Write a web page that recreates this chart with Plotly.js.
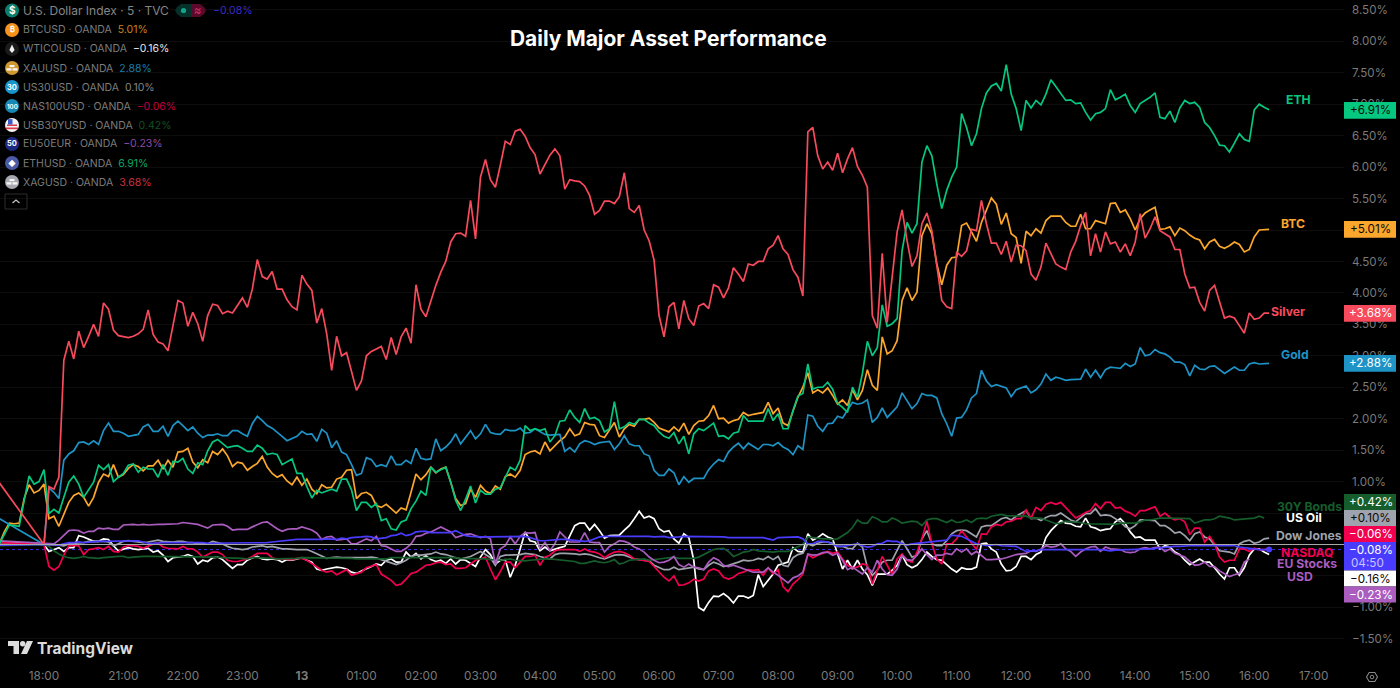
<!DOCTYPE html>
<html>
<head>
<meta charset="utf-8">
<script src="https://cdn.plot.ly/plotly-3.0.1.min.js"></script>
<style>html,body{margin:0;padding:0;background:#000;overflow:hidden}#chart{width:1400px;height:688px}</style>
</head>
<body>
<div id="chart"></div>
<script>
const _ = null;
// Percent change per 5-minute bar. First row = the bars before the 18:00 reopen, then 10 bars per row.
const silver = [.98,_,_,_,_,_,_,_,_,
0,.92,.88,1.07,2.93,3.23,2.95,3.39,3.13,3.31,
3.50,3.31,3.84,3.74,3.41,3.32,3.30,3.29,3.31,3.35,
3.42,3.73,3.34,3.22,3.19,3.08,3.48,3.88,3.84,3.47,
3.69,3.51,3.23,3.64,3.82,3.80,3.67,3.71,3.68,3.80,
3.92,3.77,4.06,4.53,4.26,4.22,4.34,4.06,4.06,3.89,
3.78,3.73,4.28,4.14,4.04,3.52,3.75,3.35,2.77,3.31,
3.00,3.05,2.76,2.45,2.60,3.00,3.07,3.11,3.15,2.94,
3.29,3.02,3.30,3.44,3.20,4.13,3.74,3.62,3.88,4.12,
4.33,4.50,4.81,4.94,4.95,4.90,5.47,4.86,5.84,6.12,
5.80,5.68,6.03,6.41,6.36,6.57,6.60,6.49,6.31,6.20,
5.89,6.03,6.19,6.29,6.18,5.65,5.80,5.78,5.77,5.70,
5.55,5.25,5.31,5.46,5.46,5.42,5.53,5.91,5.34,5.28,
5.39,5.00,4.83,4.52,3.64,3.30,3.78,3.85,3.43,3.88,
3.59,3.48,3.79,3.83,3.75,4.13,4.09,3.92,4.08,4.40,
4.30,4.18,4.46,4.44,4.50,4.50,4.70,4.76,4.91,4.70,
4.61,4.37,4.25,3.95,6.56,6.63,6.18,5.97,6.08,5.95,
6.22,5.91,6.13,6.31,6.01,5.87,5.68,3.64,3.44,4.63,
3.53,4.25,4.97,5.32,4.83,4.42,4.59,5.10,5.27,4.99,
4.41,3.88,3.78,3.75,4.65,4.58,4.67,5.01,4.99,5.47,
5.10,4.79,4.79,4.61,4.82,4.49,4.76,4.75,4.67,4.30,
4.20,4.41,4.79,4.63,4.46,4.41,4.37,4.65,4.82,5.07,
5.28,4.59,4.94,4.65,4.97,4.78,4.81,4.65,4.78,4.59,
4.81,5.26,4.87,5.02,5.21,4.99,4.94,4.89,4.69,4.69,
4.30,4.08,4.09,3.85,3.71,4.04,4.12,3.85,3.60,3.63,
3.60,3.48,3.36,3.68,3.58,3.60,3.68,3.68];
const eth = [.01,.17,.31,.30,.29,.70,1.09,.96,1.00,
1.19,.49,.56,.50,.75,.99,1.09,.96,.75,.86,
.99,1.26,1.19,1.27,1.00,1.07,1.13,1.26,1.28,1.15,
1.23,1.20,1.20,1.07,1.27,1.10,1.32,1.31,1.37,1.20,
1.13,1.30,1.27,1.49,1.63,1.67,1.61,1.54,1.56,1.57,
1.53,1.48,1.48,1.58,1.53,1.43,1.45,1.43,1.27,1.31,
1.36,1.13,1.13,.92,.74,.86,.82,.85,.88,.85,
1.04,1.04,.87,.54,.67,.67,.59,.65,.38,.41,
.25,.23,.36,.39,.57,.69,.85,.78,1.23,1.15,
1.19,1.23,.99,.70,.54,.72,.93,.66,.86,.80,
.80,.88,.90,1.07,1.23,1.18,1.34,1.89,1.81,1.84,
1.81,1.84,1.63,1.73,1.96,1.97,2.14,2.02,1.94,2.16,
2.00,2.02,1.97,1.79,1.84,2.27,1.84,1.87,1.94,1.91,
1.99,1.99,1.93,1.89,1.79,1.72,1.69,1.78,1.60,1.72,
1.44,1.76,1.84,1.81,1.87,1.93,1.72,1.73,1.68,1.77,
1.79,2.05,1.96,1.96,1.96,1.96,2.16,1.97,2.08,1.84,
1.84,2.13,2.36,2.40,2.87,2.47,2.50,2.50,2.58,2.47,
2.24,2.18,2.10,2.50,2.34,2.72,3.23,3.00,3.13,3.81,
3.47,3.51,3.59,4.67,5.12,4.95,5.10,6.08,6.34,6.18,
5.73,5.34,5.63,5.84,6.00,6.85,6.63,6.34,6.53,6.93,
7.18,7.29,7.33,7.21,7.63,7.16,6.93,6.58,7.06,6.94,
7.06,6.99,7.16,7.39,7.28,7.16,7.06,7.07,7.01,7.02,
6.87,6.75,6.85,6.87,6.93,7.23,7.07,7.11,7.16,6.98,
6.87,7.01,7.06,7.11,7.18,6.79,6.77,6.89,6.71,6.94,
7.06,7.01,7.03,6.95,6.71,6.63,6.50,6.35,6.34,6.24,
6.38,6.53,6.44,6.41,6.91,7.00,6.95,6.91];
const btc = [.01,.20,.34,.33,.34,.73,.95,.82,.86,
.96,.41,.45,.29,.49,.67,.78,.82,.75,.61,
.75,.99,1.12,1.08,1.27,1.07,1.11,1.21,1.27,1.24,
1.17,1.25,1.25,1.34,1.20,1.34,1.23,1.47,1.48,1.53,
1.31,1.22,1.35,1.30,1.48,1.43,1.52,1.41,1.24,1.31,
1.29,1.18,1.24,1.29,1.40,1.23,1.13,1.07,1.11,1.01,
.95,1.07,.94,1.04,.88,.81,.95,.90,.91,1.04,
1.07,1.18,1.19,.73,.81,.83,.78,.62,.59,.64,
.57,.50,.58,.55,.83,1.12,1.03,1.11,1.23,1.14,
1.20,1.23,.99,.73,.62,.65,.88,.75,.94,.85,
.81,.93,.88,1.08,1.12,1.07,1.18,1.43,1.47,1.49,
1.44,1.63,1.49,1.57,1.65,1.71,1.84,1.73,1.76,1.94,
1.91,1.90,1.73,1.70,1.81,1.94,1.71,1.84,1.91,1.88,
1.99,1.99,2.01,1.94,1.85,1.82,1.79,1.87,1.80,1.93,
1.75,1.89,1.96,1.97,2.05,2.21,2.00,2.01,1.93,1.97,
1.99,2.10,2.05,2.07,2.09,2.10,2.26,2.08,2.17,1.93,
1.89,2.13,2.34,2.50,2.73,2.41,2.46,2.41,2.49,2.37,
2.23,2.30,2.21,2.46,2.30,2.45,2.78,2.53,2.45,3.30,
3.03,3.08,3.24,3.88,4.08,3.88,4.01,4.91,5.10,4.94,
4.46,4.13,4.44,4.56,4.57,5.07,5.11,4.97,4.82,5.12,
5.31,5.51,5.41,5.09,5.27,4.94,4.88,4.47,4.98,4.91,
5.02,4.95,5.15,5.22,5.22,5.22,5.12,5.06,5.06,5.25,
5.02,5.02,5.15,5.12,5.10,5.42,5.43,5.28,5.32,5.18,
5.00,5.18,5.27,5.32,5.36,5.01,5.02,5.05,4.91,5.03,
4.99,4.92,4.87,4.84,4.70,4.81,4.85,4.74,4.71,4.75,
4.81,4.77,4.65,4.69,4.89,5.00,5.01,5.01];
const gold = [.41,_,_,_,_,_,_,_,_,
0,.90,.83,.73,1.34,1.44,1.49,1.62,1.63,1.59,
1.65,1.59,1.81,1.93,1.80,1.80,1.77,1.72,1.74,1.75,
1.87,1.91,1.80,1.80,1.88,1.72,1.89,1.96,1.89,1.81,
1.87,1.77,1.70,1.74,1.74,1.76,1.73,1.73,1.81,1.81,
1.76,1.72,1.92,2.04,1.97,1.89,1.85,1.79,1.72,1.65,
1.68,1.72,1.80,1.75,1.76,1.64,1.83,1.77,1.54,1.65,
1.47,1.43,1.27,1.10,1.13,1.38,1.35,1.24,1.27,1.24,
1.41,1.27,1.27,1.34,1.29,1.53,1.37,1.35,1.36,1.68,
1.49,1.55,1.63,1.76,1.60,1.71,1.81,1.68,1.76,1.91,
1.78,1.76,1.75,1.83,1.81,1.81,1.85,1.77,1.78,1.84,
1.79,1.75,1.74,1.75,1.75,1.48,1.54,1.47,1.60,1.65,
1.63,1.59,1.62,1.63,1.64,1.51,1.60,1.73,1.60,1.57,
1.57,1.44,1.41,1.18,1.10,1.10,1.20,1.14,.95,1.08,
.99,1.05,1.05,1.05,1.19,1.28,1.35,1.32,1.47,1.55,
1.61,1.52,1.61,1.56,1.51,1.59,1.59,1.57,1.62,1.55,
1.51,1.43,1.57,1.51,2.06,2.04,1.88,1.80,1.92,1.93,
2.04,2.01,2.14,2.26,2.23,2.25,2.30,1.94,2.02,2.17,
2.02,2.10,2.19,2.41,2.28,2.16,2.24,2.40,2.37,2.37,
2.33,2.08,1.92,1.72,2.01,2.02,2.14,2.33,2.40,2.77,
2.60,2.51,2.54,2.52,2.49,2.35,2.46,2.49,2.52,2.41,
2.46,2.55,2.71,2.61,2.66,2.64,2.61,2.62,2.62,2.63,
2.79,2.66,2.77,2.65,2.78,2.82,2.81,2.80,2.88,2.83,
2.87,3.13,3.00,3.02,3.10,3.05,3.03,2.98,2.90,2.90,
2.86,2.68,2.85,2.79,2.78,2.83,2.84,2.78,2.72,2.77,
2.82,2.77,2.77,2.87,2.89,2.87,2.88,2.88];
const euStocks = [.06,_,_,_,_,_,_,_,_,
.02,.01,.01,.07,.15,.22,.23,.22,.18,.21,
.21,.26,.25,.26,.24,.24,.31,.32,.32,.31,
.32,.31,.32,.32,.32,.32,.33,.33,.35,.34,
.33,.32,.29,.26,.31,.32,.32,.29,.23,.24,
.24,.24,.28,.31,.35,.36,.30,.25,.21,.24,
.25,.25,.28,.26,.23,.18,.08,.12,.13,.07,
.08,.09,.01,.01,.05,.09,.06,.13,-.02,-.03,
-.07,-.11,-.11,-.06,.01,.13,.14,.18,.20,.24,
.28,.24,.20,.11,.14,.16,.17,.14,.11,.13,
.09,-.31,-.07,-.02,.12,.01,.13,.19,.18,.19,
-.07,.03,-.10,.01,.20,.12,.04,.04,.04,.19,
.04,.03,.03,-.12,-.03,.01,.06,.05,.02,-.04,
-.07,-.12,-.20,-.25,-.29,-.28,-.25,-.19,-.32,-.36,
-.31,-.36,-.37,-.40,-.28,-.21,-.25,-.33,-.35,-.33,
-.36,-.39,-.42,-.44,-.44,-.44,-.37,-.44,-.49,-.55,
-.61,-.53,-.50,-.44,-.15,-.17,-.16,-.13,-.12,-.17,
-.14,-.25,-.40,-.36,-.41,-.47,-.37,-.44,-.25,-.39,
-.48,-.49,-.39,-.17,-.24,-.25,-.17,-.07,-.16,-.24,
-.17,-.17,-.14,-.16,-.07,-.12,-.07,-.16,-.11,-.17,
-.24,-.24,-.24,-.23,-.21,-.18,-.16,-.15,-.14,-.10,
-.11,-.07,-.02,-.04,-.03,.01,-.07,-.11,-.19,-.12,
-.07,-.04,-.03,-.11,-.04,-.07,-.07,-.08,-.12,-.13,
-.12,-.07,-.05,-.07,-.05,-.04,-.11,-.07,-.14,-.17,
-.20,-.27,-.33,-.32,-.28,-.35,-.35,-.42,-.47,-.51,
-.48,-.46,-.28,-.23,_,_,_,_];
const usd = [-.01,_,_,_,_,_,_,_,_,
0,.01,0,-.01,.01,.03,.03,.04,.03,.04,
.04,.05,.05,.05,.05,.05,.06,.06,.06,.06,
.04,.02,.02,.03,.03,.03,.03,.03,.04,.03,
.03,.03,.03,.02,.02,.02,.02,.02,.03,.03,
.03,.03,.03,.03,.03,.03,.04,.05,.06,.07,
.08,.08,.08,.08,.07,.07,.08,.09,.08,.08,
.10,.09,.11,.11,.12,.13,.12,.09,.10,.11,
.14,.15,.18,.14,.16,.20,.21,.21,.19,.19,
.19,.19,.19,.22,.18,.14,.13,.12,.12,.12,
.12,.12,.12,.12,.12,.13,.12,.13,.11,.09,
.06,.06,.07,.08,.08,.08,.07,.07,.06,.05,
.06,.09,.12,.13,.13,.13,.14,.14,.14,.14,
.14,.14,.13,.12,.12,.13,.11,.11,.12,.13,
.13,.13,.13,.13,.13,.13,.13,.12,.11,.11,
.10,.11,.11,.11,.11,.11,.09,.07,.11,.11,
.11,.11,.12,.09,.01,.01,.05,.05,.04,0,
-.03,-.03,-.02,0,.01,-.02,-.04,-.03,.01,.02,
.06,.05,.05,.01,-.01,.01,.02,.03,.03,.04,
.06,.07,.07,.15,.14,.13,.09,.05,.01,0,
-.02,-.01,0,-.02,-.02,-.03,-.03,-.07,-.11,-.10,
-.10,-.08,-.08,-.08,-.08,-.08,-.08,-.08,-.08,-.07,
-.07,-.07,-.07,-.08,-.09,-.10,-.09,-.08,-.08,-.08,
-.08,-.07,-.07,-.07,-.06,-.05,-.05,-.04,-.03,-.03,
-.02,-.02,-.02,-.02,-.02,-.02,-.02,-.01,-.01,-.01,
-.02,-.04,-.05,-.07,-.07,-.08,-.08,-.08];
const nasdaq = [.03,_,_,_,_,_,_,_,_,
0,-.35,-.41,-.35,-.17,-.02,-.02,-.02,-.16,-.08,
-.07,-.05,-.08,-.03,-.11,-.12,-.04,-.02,-.02,-.03,
-.06,-.03,.01,.02,-.04,-.06,-.07,-.07,-.03,-.07,
-.07,-.12,-.20,-.16,-.12,-.12,-.16,-.25,-.27,-.27,
-.25,-.23,-.19,-.14,-.14,-.14,-.21,-.23,-.23,-.24,
-.24,-.22,-.22,-.25,-.30,-.35,-.41,-.44,-.42,-.48,
-.44,-.40,-.49,-.46,-.44,-.37,-.35,-.32,-.47,-.52,
-.57,-.65,-.63,-.55,-.46,-.44,-.39,-.33,-.32,-.29,
-.28,-.32,-.31,-.38,-.38,-.37,-.31,-.25,-.23,-.20,
-.39,-.56,-.43,-.28,-.28,-.37,-.28,-.19,-.19,-.17,
-.33,-.20,-.17,-.10,-.08,-.08,-.07,-.08,-.11,-.07,
-.11,-.12,-.15,-.21,-.16,-.12,-.11,-.13,-.17,-.23,
-.24,-.25,-.27,-.35,-.44,-.52,-.58,-.50,-.65,-.64,
-.61,-.55,-.58,-.55,-.42,-.39,-.42,-.52,-.55,-.52,
-.46,-.44,-.40,-.41,-.40,-.49,-.37,-.47,-.40,-.67,
-.75,-.63,-.56,-.47,-.16,-.21,-.17,-.14,-.11,-.14,
-.12,-.23,-.33,-.37,-.36,-.31,-.33,-.63,-.42,-.19,
-.33,-.48,-.23,-.15,-.25,-.28,-.12,.09,.37,.01,
-.23,-.31,.01,.01,.09,.22,.12,.01,-.08,.17,
.16,.28,.32,.30,.36,.37,.41,.41,.55,.42,
.59,.54,.64,.67,.64,.67,.59,.50,.42,.46,
.51,.54,.65,.57,.67,.67,.58,.59,.53,.50,
.45,.54,.54,.57,.60,.45,.50,.43,.39,.41,
.36,.16,.26,.26,.04,.13,.01,-.20,-.28,-.25,
-.25,-.07,-.07,-.11,-.06,-.08,-.08,-.06];
const usOil = [.04,_,_,_,_,_,_,_,_,
0,-.11,-.08,-.05,-.11,-.05,-.05,.14,.12,.08,
.05,.05,.09,.08,-.02,-.10,-.07,-.05,-.07,-.08,
-.07,-.06,-.12,-.10,-.17,-.27,-.21,-.20,-.19,-.16,
-.19,-.31,-.25,-.27,-.21,-.20,-.24,-.31,-.38,-.32,
-.32,-.25,-.21,-.19,-.23,-.24,-.23,-.24,-.28,-.24,
-.25,-.23,-.21,-.25,-.28,-.39,-.41,-.39,-.38,-.36,
-.37,-.39,-.44,-.46,-.42,-.39,-.35,-.31,-.33,-.25,
-.23,-.28,-.28,-.12,-.20,-.14,-.23,-.18,-.24,-.27,
-.25,-.30,-.23,-.31,-.24,-.25,-.30,-.35,-.20,-.08,
-.16,-.31,-.25,-.24,-.52,-.33,-.07,.20,.06,.04,
-.10,-.04,-.10,-.07,-.05,-.03,.14,.30,.34,.34,
.23,.32,.22,.10,.14,.15,.15,.23,.30,.41,
.53,.42,.45,.41,.25,.20,.22,.09,.02,.17,
.11,-.25,-1.00,-1.05,-.92,-.82,-.83,-.78,-.84,-.93,
-.82,-.82,-.85,-.81,-.48,-.67,-.57,-.47,-.33,-.31,
-.28,-.05,-.11,-.12,.17,.07,.11,.17,.12,.09,
-.17,-.39,-.25,-.39,-.25,-.39,-.48,-.65,-.47,-.47,
-.47,-.41,-.33,-.17,-.32,-.37,-.33,-.24,-.12,-.19,
-.24,-.25,-.32,-.39,-.44,-.37,-.39,-.39,-.36,.01,
.02,-.07,-.12,-.31,-.42,-.41,-.35,-.19,-.19,-.24,
-.16,-.12,.11,.22,.30,.38,.34,.33,.29,.28,
.42,.28,.26,.22,.24,.25,.36,.41,.33,.20,
.11,.12,.07,.07,.07,-.07,-.02,-.04,-.12,-.16,
-.25,-.32,-.28,-.23,-.28,-.28,-.37,-.47,-.55,-.37,
-.37,-.49,-.37,-.17,-.07,-.07,-.12,-.16];
const dowJones = [.03,_,_,_,_,_,_,_,_,
0,0,0,-.01,-.02,.01,.02,.02,.03,.05,
.05,.06,.05,.04,-.02,.01,.05,.06,.05,.04,
.03,.04,.06,.07,.05,.04,.04,.05,.05,.03,
.03,.01,.02,.01,.05,.03,.01,-.03,-.06,-.07,
-.08,-.07,-.04,-.03,-.02,-.04,-.03,-.05,-.07,-.07,
-.08,-.08,-.08,-.08,-.11,-.15,-.19,-.22,-.21,-.20,
-.21,-.21,-.22,-.22,-.21,-.21,-.20,-.21,-.24,-.27,
-.30,-.32,-.29,-.25,-.19,-.17,-.17,-.16,-.15,-.12,
-.15,-.16,-.19,-.21,-.23,-.21,-.19,-.15,-.11,-.16,
-.21,-.33,-.19,-.17,-.17,-.17,-.16,-.14,-.15,-.16,
-.19,-.21,-.23,-.16,-.14,-.14,-.14,-.15,-.16,-.15,
-.16,-.19,-.21,-.23,-.20,-.17,-.16,-.17,-.20,-.23,
-.24,-.25,-.26,-.33,-.37,-.40,-.40,-.36,-.40,-.39,
-.37,-.36,-.39,-.40,-.33,-.28,-.31,-.35,-.33,-.31,
-.28,-.25,-.26,-.25,-.22,-.24,-.19,-.24,-.19,-.33,
-.35,-.21,-.16,-.14,.01,-.02,.02,.04,.04,.02,
-.03,-.03,-.06,-.07,.02,-.04,-.36,-.49,-.41,-.28,
-.25,-.25,-.10,.06,-.07,-.20,-.17,.09,.22,.01,
-.02,-.02,.06,.17,.22,.23,.22,.17,.12,.28,
.30,.30,.36,.41,.43,.39,.45,.49,.54,.41,
.42,.38,.43,.46,.46,.50,.45,.39,.36,.43,
.49,.49,.57,.46,.47,.46,.41,.36,.28,.25,
.30,.39,.39,.39,.38,.30,.30,.25,.18,.20,
.14,.06,.17,.20,.12,.09,0,-.10,-.11,-.12,
-.15,.01,.05,.07,.02,.04,.09,.10];
const bonds30y = [-.02,_,_,_,_,_,_,_,_,
0,-.03,-.10,-.15,-.19,-.21,-.22,-.21,-.19,-.21,
-.22,-.22,-.21,-.20,-.19,-.19,-.19,-.21,-.20,-.19,
-.19,-.19,-.19,-.19,-.19,-.19,-.19,-.19,-.19,-.19,
-.19,-.19,-.19,-.19,-.20,-.20,-.21,-.21,-.22,-.22,
-.22,-.23,-.21,-.21,-.21,-.22,-.22,-.23,-.23,-.23,
-.23,-.22,-.21,-.21,-.21,-.22,-.22,-.22,-.21,-.21,
-.21,-.22,-.22,-.23,-.23,-.23,-.24,-.24,-.24,-.23,
-.21,-.21,-.21,-.21,-.21,-.20,-.20,-.20,-.20,-.21,
-.21,-.21,-.21,-.21,-.22,-.22,-.22,-.23,-.23,-.23,
-.24,-.25,-.25,-.24,-.23,-.25,-.26,-.26,-.25,-.24,
-.23,-.23,-.23,-.24,-.24,-.25,-.26,-.27,-.30,-.30,
-.28,-.26,-.28,-.29,-.27,-.24,-.31,-.29,-.25,-.24,
-.23,-.23,-.25,-.24,-.23,-.22,-.21,-.20,-.22,-.22,
-.22,-.22,-.20,-.16,-.11,-.08,-.07,-.06,-.11,-.19,
-.16,-.12,-.11,-.08,-.10,-.11,-.12,-.12,-.11,-.11,
-.11,-.07,-.04,0,.12,.11,.09,.09,.09,.08,
.09,.14,.19,.27,.39,.34,.34,.44,.41,.36,
.36,.42,.39,.34,.36,.37,.36,.30,.39,.41,
.41,.38,.35,.39,.35,.36,.39,.35,.41,.42,
.41,.45,.47,.48,.46,.46,.46,.45,.45,.42,
.42,.42,.39,.36,.33,.34,.37,.36,.36,.35,
.33,.33,.33,.32,.33,.32,.32,.34,.34,.34,
.34,.36,.39,.39,.41,.42,.42,.42,.42,.42,
.42,.41,.34,.37,.39,.39,.41,.45,.44,.42,
.39,.40,.41,.42,.42,.45,.42,_];

const barIndex = silver.map((v, n) => n - 9);
const xTickBars = [0,16,28,40,52,64,76,88,100,112,124,136,148,160,172,184,196,208,220,232,244,256];
const xTickLabels = ["18:00","21:00","22:00","23:00","<b>13</b>","01:00","02:00","03:00","04:00","05:00","06:00","07:00","08:00","09:00","10:00","11:00","12:00","13:00","14:00","15:00","16:00","17:00"];
const yTicks = [8.5,8,7.5,7,6.5,6,5.5,5,4.5,4,3.5,3,2.5,2,1.5,1,0.5,0,-0.5,-1,-1.5];
const yTickLabels = ["8.50%","8.00%","7.50%","7.00%","6.50%","6.00%","5.50%","","4.50%","4.00%","3.50%","3.00%","2.50%","2.00%","1.50%","1.00%","","","","\u22121.00%","\u22121.50%"];

const BG = "#000000";
const C = {silver:"#f74a5c", eth:"#06c77f", btc:"#fba62c", gold:"#1e93c6", eu:"#ab5cbf", usd:"#4a3cff", nas:"#f2004f", oil:"#ffffff", dow:"#9fa3ad", bonds:"#155d2b"};

// Plot box in page pixels: 1344 wide, 660 tall, at the top left.
const PW = 1344, PH = 660;
const px = x => x / PW, py = y => 1 - y / PH;
const barOfPx = x => (x - 44) / 4.96;
const pctOfPx = y => (544.5 - y) / 62.9;

const lineTrace = (name, y, color, w) => ({type:"scatter", mode:"lines", name, x:barIndex, y, connectgaps:true,
  line:{color, width:w || 1.7, shape:"linear"}, hoverinfo:"skip", cliponaxis:true});

const traces = [
  lineTrace("BTC", btc, C.btc),
  lineTrace("US Oil", usOil, C.oil),
  lineTrace("Gold", gold, C.gold),
  lineTrace("Dow Jones", dowJones, C.dow),
  lineTrace("NASDAQ", nasdaq, C.nas),
  lineTrace("30Y Bonds", bonds30y, C.bonds),
  lineTrace("EU Stocks", euStocks, C.eu),
  lineTrace("ETH", eth, C.eth),
  lineTrace("Silver", silver, C.silver),
  lineTrace("USD", usd, C.usd),
  {type:"scatter", mode:"markers", x:[barIndex[barIndex.length-1]], y:[usd[usd.length-1]], marker:{color:C.usd, size:6}, hoverinfo:"skip"}
];

const FONT = "Inter, 'Noto Sans', sans-serif";
const ann = [];
const text = (x, y, t, size, color, opt) => ann.push(Object.assign({xref:"paper", yref:"paper", x:px(x), y:py(y), text:t, showarrow:false,
  xanchor:"left", yanchor:"middle", align:"left", font:{family:FONT, size, color}, borderpad:0, borderwidth:0}, opt || {}));

// Title
text(668, 38.5, "<b>Daily Major Asset Performance</b>", 20.9, "#ffffff", {xanchor:"center"});

// Legend rows
const legendNames = ["BTCUSD \u00b7 OANDA","WTICOUSD \u00b7 OANDA","XAUUSD \u00b7 OANDA","US30USD \u00b7 OANDA","NAS100USD \u00b7 OANDA","USB30YUSD \u00b7 OANDA","EU50EUR \u00b7 OANDA","ETHUSD \u00b7 OANDA","XAGUSD \u00b7 OANDA"];
const legendValues = ["5.01%","\u22120.16%","2.88%","0.10%","\u22120.06%","0.42%","\u22120.23%","6.91%","3.68%"];
const legendColors = ["#c9831f","#e6e6e6","#1a7da8","#858585","#c20040","#124f22","#8f4aa3","#0aa866","#c93040"];
const iconColors = ["#f7931a","#1a1a1a","#cf982c","#1795cc","#1787b5","#f4f4f4","#1c2a82","#4a5aa6","#a8a8b0"];
const iconGlyphs = ["\u20bf","","","30","100","","50","\u25c6",""];
const legendY = [30,49,68,87,106,125,144,163,182];
const shapes = [];
const circle = (cx, cy, r, fill) => shapes.push({type:"circle", xref:"paper", yref:"paper", x0:px(cx-r), x1:px(cx+r), y0:py(cy+r), y1:py(cy-r), fillcolor:fill, line:{width:0}, layer:"above"});
const rect = (x0, y0, x1, y1, fill, line) => shapes.push({type:"rect", xref:"paper", yref:"paper", x0:px(x0), x1:px(x1), y0:py(y1), y1:py(y0), fillcolor:fill, line:line || {width:0}, layer:"above"});
const poly = (pts, fill, line, closed) => shapes.push({type:"path", xref:"paper", yref:"paper",
  path:"M" + pts.map(p => px(p[0]) + "," + py(p[1])).join("L") + (closed === false ? "" : "Z"), fillcolor:fill, line:line || {width:0}, layer:"above"});

legendNames.forEach((n, k) => {
  circle(12, legendY[k], 7, iconColors[k]);
  if (iconGlyphs[k]) text(12, legendY[k], "<b>" + iconGlyphs[k] + "</b>", k === 4 ? 6 : 7.5, "#ffffff", {xanchor:"center"});
  text(23, legendY[k], n + "&nbsp;&nbsp;<span style=\"color:" + legendColors[k] + "\">" + legendValues[k] + "</span>", 10.5, "#7c7c7c");
});
// metal bars on the gold and silver icons, drop on the oil icon
[68, 182].forEach(cy => { rect(9.5, cy-3, 14.5, cy-0.8, "#f4f4f4"); rect(6.5, cy+0.2, 11.5, cy+2.6, "#f4f4f4"); rect(12.5, cy+0.2, 17.5, cy+2.6, "#f4f4f4"); });
poly([[12,44.5],[14.6,50],[12,53],[9.4,50]], "#f0f0f0");
// flag stripes on the 30Y icon
rect(7, 124.5, 17, 126, "#e0394a"); rect(6, 127.5, 18, 129.2, "#e0394a"); rect(8, 119.1, 12.5, 124.5, "#3a5bc8");
// Main series row
circle(12, 10.5, 7, "#0b7f6e");
text(12, 10.5, "<b>$</b>", 10, "#ffffff", {xanchor:"center"});
text(23, 10.5, "U.S. Dollar Index \u00b7 5 \u00b7 TVC", 12, "#858585");
poly([[181,4],[191,4],[191,17],[181,17],[177,14],[175,10.5],[177,7]], "#06302a");
poly([[191,4],[200,4],[204,7],[206,10.5],[204,14],[200,17],[191,17]], "#5c0a2c");
circle(183.5, 10.5, 2.6, "#12a58c");
text(197.5, 10.5, "\u2248", 11, "#d0386c", {xanchor:"center"});
text(213, 10.5, "\u22120.08%", 10.5, "#3a2cc4");
// collapse button
rect(5, 194, 27, 209, "rgba(0,0,0,0)", {color:"#2c2c2c", width:1});
poly([[12.5,203],[16,200],[19.5,203]], "rgba(0,0,0,0)", {color:"#c8c8c8", width:1.2}, false);

// TradingView mark
poly([[8,641],[19,641],[19,654],[13.5,654],[13.5,646],[8,646]], "#dcdcdc");
circle(22.7, 643.7, 2.7, "#dcdcdc");
poly([[27,641],[33,641],[27,654],[21,654]], "#dcdcdc");
text(37, 648, "<b>TradingView</b>", 15.5, "#dcdcdc");

// Settings glyph
poly([[1366.5,677],[1369.2,672.5],[1374.8,672.5],[1377.5,677],[1374.8,681.5],[1369.2,681.5]], "rgba(0,0,0,0)", {color:"#8a8a8a", width:1.1});
shapes.push({type:"circle", xref:"paper", yref:"paper", x0:px(1370.2), x1:px(1373.8), y0:py(678.8), y1:py(675.2), line:{color:"#8a8a8a", width:1}, fillcolor:"rgba(0,0,0,0)", layer:"above"});

// Reference lines on the value scale
shapes.push({type:"line", xref:"paper", yref:"y", x0:0, x1:1, y0:0, y1:0, line:{color:"#a8a8a8", width:1}, layer:"above"});
shapes.push({type:"line", xref:"paper", yref:"y", x0:0, x1:1, y0:usd[usd.length-1], y1:usd[usd.length-1], line:{color:"#3a2ce0", width:1, dash:"dot"}, layer:"below"});

// Series name tags
const seriesLabels = ["ETH","BTC","Silver","Gold","30Y Bonds","US Oil","Dow Jones","NASDAQ","EU Stocks","USD"];
const labelColors = [C.eth,C.btc,C.silver,C.gold,C.bonds,C.oil,C.dow,C.nas,C.eu,C.eu];
const labelPos = [[1298.5,100],[1293,223],[1288,311],[1294.5,354],[1309,506.5],[1304,517],[1309,535],[1307,552],[1307,563.5],[1299.5,576]];
seriesLabels.forEach((t, k) => text(labelPos[k][0], labelPos[k][1], "<b>" + t + "</b>", 12.2, labelColors[k], {xanchor:"center"}));

// Last-value tags on the scale
const tagValues = ["+6.91%","+5.01%","+3.68%","+2.88%","+0.42%","+0.10%","\u22120.06%","\u22120.08%","\u22120.16%","\u22120.23%"];
const tagFill = [C.eth,C.btc,C.silver,C.gold,C.bonds,C.dow,C.nas,C.usd,"#ffffff",C.eu];
const tagInk = ["#0a0a0a","#0a0a0a","#ffffff","#ffffff","#ffffff","#0a0a0a","#ffffff","#ffffff","#0a0a0a","#ffffff"];
const tagTop = [102,221,305,355,494,510,526,542,570.5,586.5];
const tagH = [16.7,16.7,16.7,16.7,16,16,16,28.5,16,16];
tagValues.forEach((t, k) => {
  rect(1344, tagTop[k], 1396, tagTop[k] + tagH[k], tagFill[k]);
  text(1370.5, tagTop[k] + 8.2, t, 11.7, tagInk[k], {xanchor:"center"});
});
text(1351, 562.5, "04:50", 11.7, "#c9c4ff");

const xFont = {family:FONT, size:11.8, color:"#7a7a7a"};
const yFont = {family:FONT, size:11.6, color:"#7a7a7a"};
const layout = {
  width:1400, height:688, margin:{l:0, r:56, t:0, b:28, pad:0},
  paper_bgcolor:BG, plot_bgcolor:BG, showlegend:false, hovermode:false, dragmode:false,
  xaxis:{type:"linear", range:[barOfPx(0), barOfPx(PW)], tickmode:"array", tickvals:xTickBars, ticktext:xTickLabels,
    showgrid:false, zeroline:false, showline:false, ticks:"", tickfont:xFont, ticklabelstandoff:7, fixedrange:true},
  yaxis:{side:"right", range:[pctOfPx(PH), pctOfPx(0)], tickmode:"array", tickvals:yTicks, ticktext:yTickLabels,
    showgrid:true, gridcolor:"#0d0d0d", gridwidth:1, zeroline:false, showline:false, ticks:"", tickfont:yFont, ticklabelstandoff:7, fixedrange:true},
  annotations:ann, shapes
};
Plotly.newPlot("chart", traces, layout, {displayModeBar:false, staticPlot:true, responsive:false});
</script>
</body>
</html>
